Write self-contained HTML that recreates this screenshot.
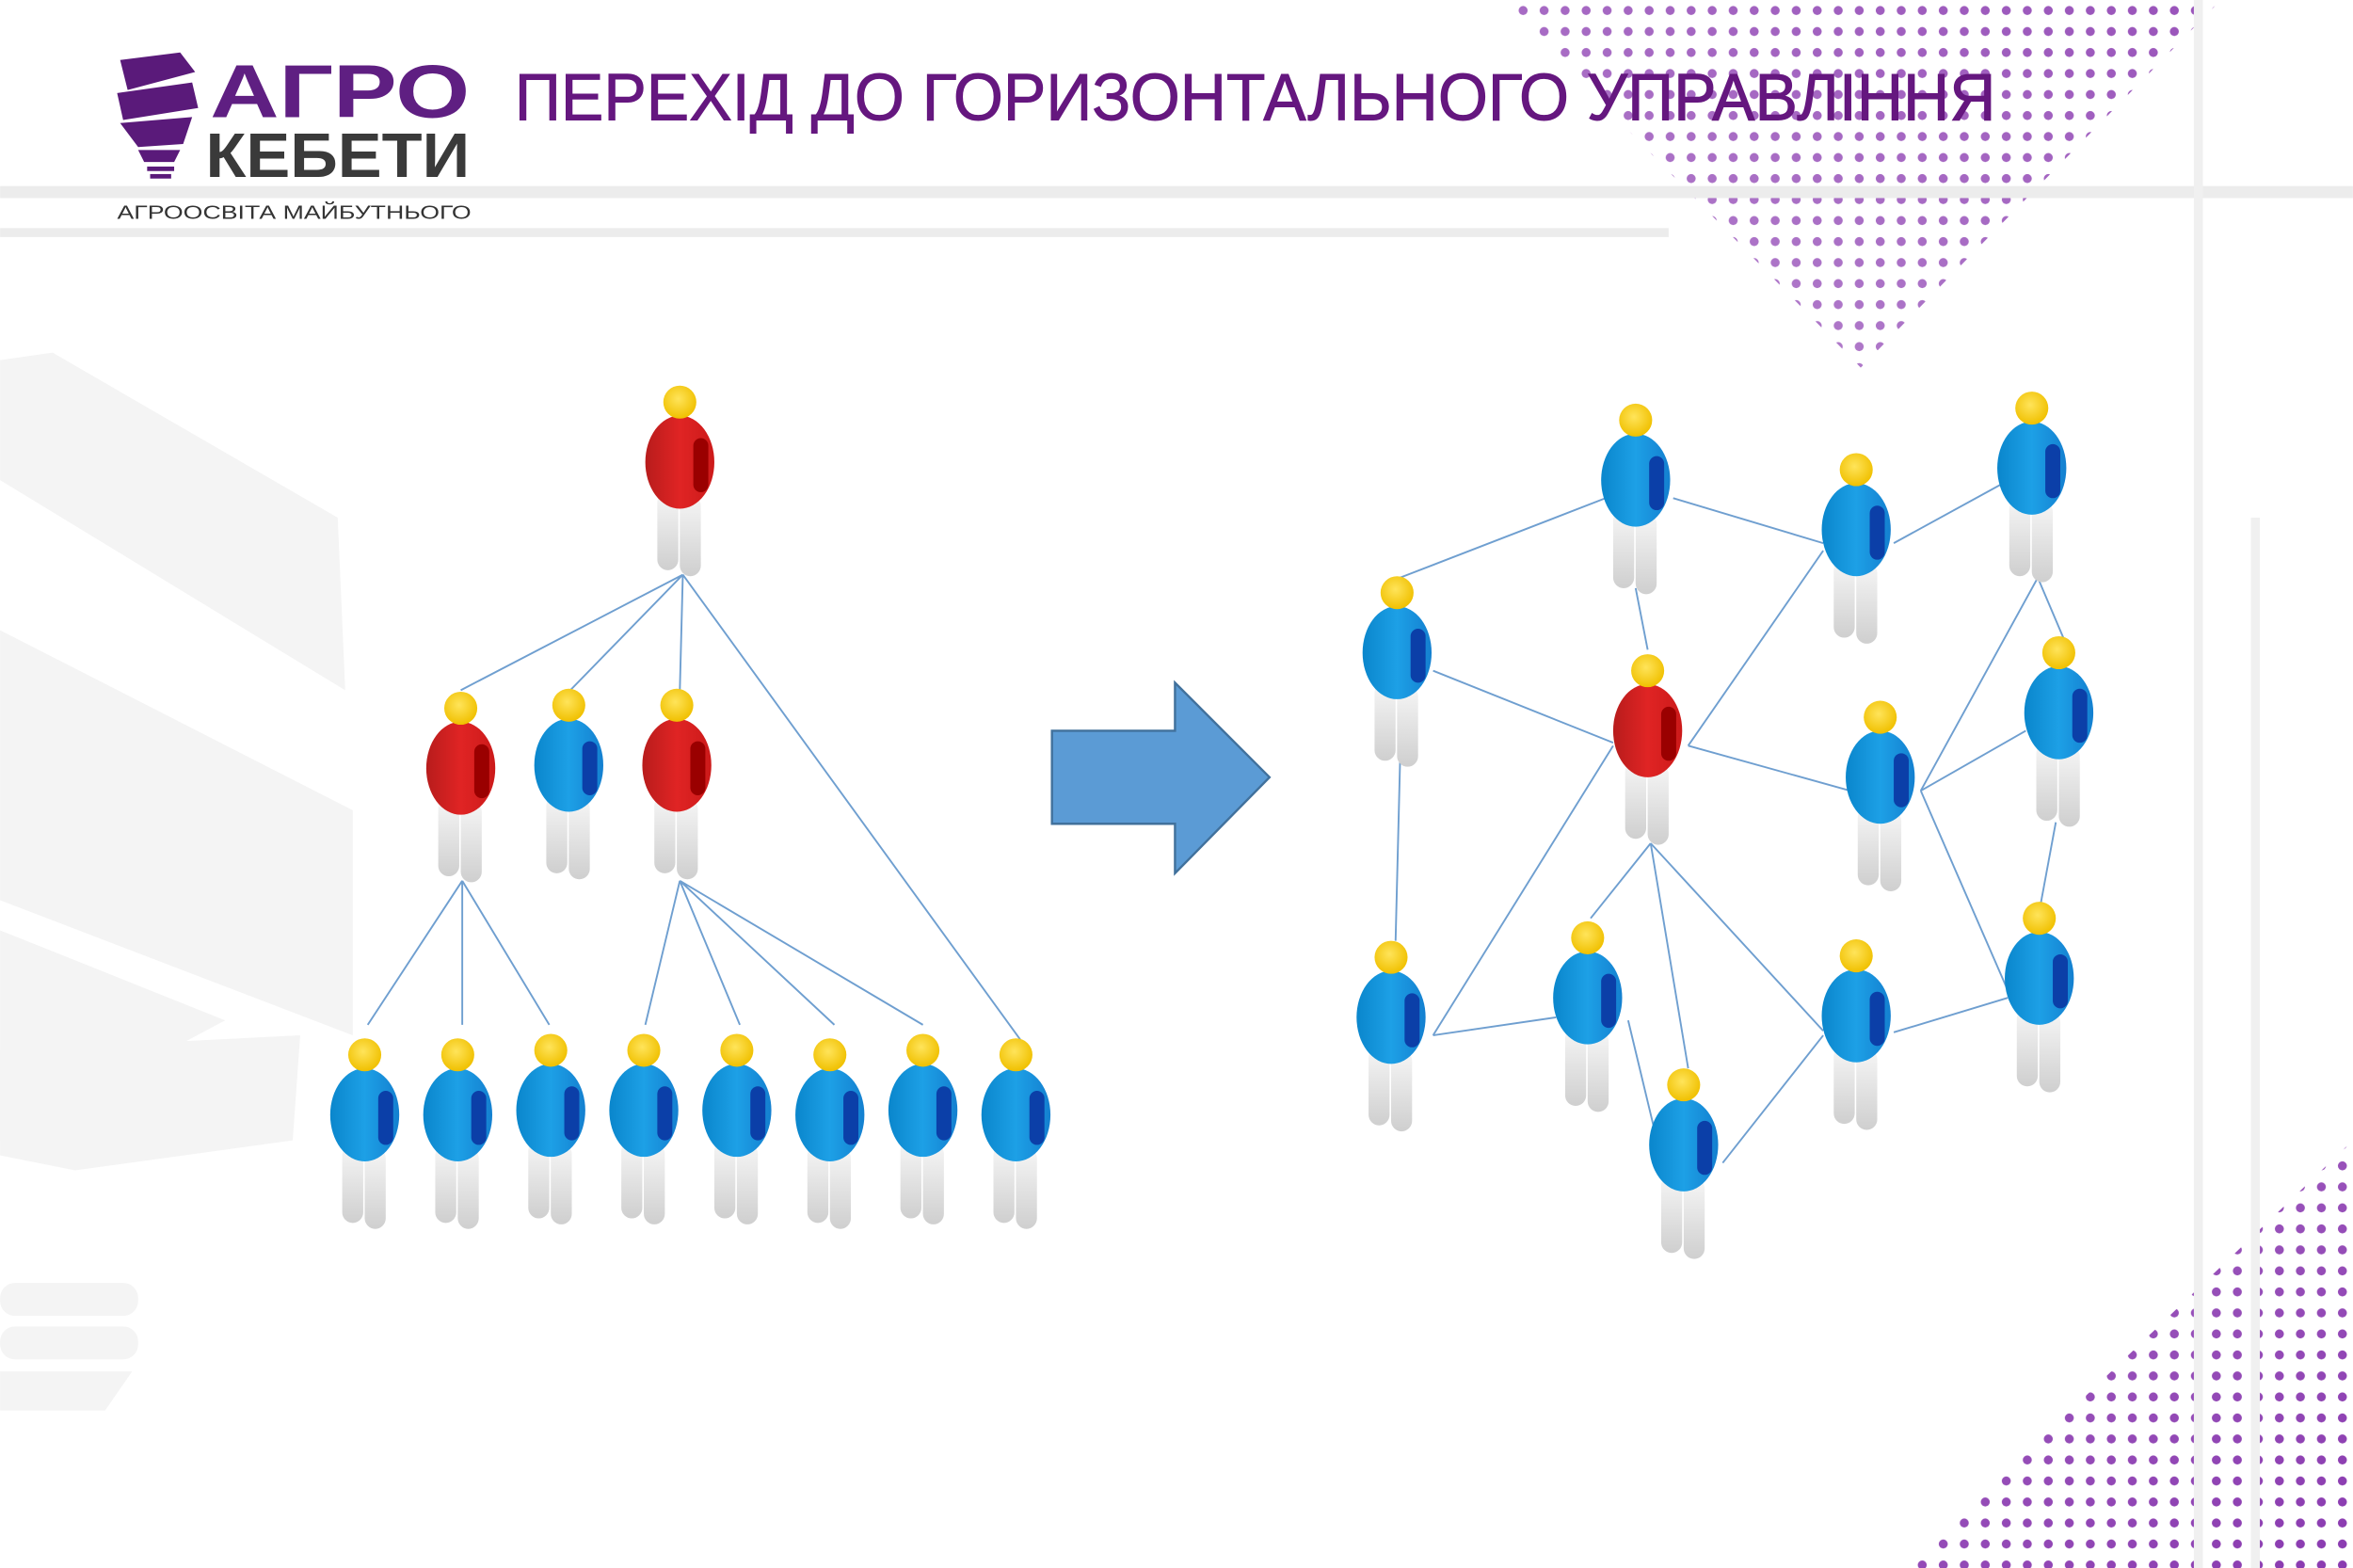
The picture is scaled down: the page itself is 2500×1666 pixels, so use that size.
<!DOCTYPE html>
<html><head><meta charset="utf-8"><style>
html,body{margin:0;padding:0;background:#fff;}
svg{display:block;}
</style></head><body>
<svg width="2500" height="1666" viewBox="0 0 1568 1045" xmlns="http://www.w3.org/2000/svg">
<defs>
<linearGradient id="leg" x1="0" y1="0" x2="0" y2="1"><stop offset="0" stop-color="#f6f6f6"/><stop offset="1" stop-color="#cfcfcf"/></linearGradient>
<linearGradient id="blue" x1="0" y1="0" x2="1" y2="0"><stop offset="0" stop-color="#0a86cc"/><stop offset="0.5" stop-color="#1da0e6"/><stop offset="1" stop-color="#1480d0"/></linearGradient>
<linearGradient id="red" x1="0" y1="0" x2="1" y2="0"><stop offset="0" stop-color="#b81c1c"/><stop offset="0.5" stop-color="#e02424"/><stop offset="1" stop-color="#cc1a1a"/></linearGradient>
<radialGradient id="head" cx="0.45" cy="0.4" r="0.6"><stop offset="0" stop-color="#ffe45a"/><stop offset="1" stop-color="#f0c000"/></radialGradient>
<g id="legs">
<rect x="-15" y="60" width="14" height="52" rx="7" fill="url(#leg)"/>
<rect x="0" y="62" width="14" height="54" rx="7" fill="url(#leg)"/>
</g>
<g id="pb">
<use href="#legs"/>
<ellipse cx="0" cy="40" rx="23" ry="31" fill="url(#blue)"/>
<rect x="9" y="24" width="10" height="36" rx="5" fill="#0b3fa8"/>
<circle cx="0" cy="0" r="11" fill="url(#head)"/>
</g>
<g id="pr">
<use href="#legs"/>
<ellipse cx="0" cy="40" rx="23" ry="31" fill="url(#red)"/>
<rect x="9" y="24" width="10" height="36" rx="5" fill="#9a0000"/>
<circle cx="0" cy="0" r="11" fill="url(#head)"/>
</g>
<pattern id="dots" width="14" height="14" patternUnits="userSpaceOnUse"><circle cx="7" cy="7" r="3" fill="#8a3ab0"/></pattern>
<linearGradient id="fadeTR" x1="1" y1="0" x2="0.3" y2="1"><stop offset="0" stop-color="#fff" stop-opacity="0.9"/><stop offset="1" stop-color="#fff" stop-opacity="0.05"/></linearGradient>
<mask id="mTR"><rect x="0" y="0" width="1568" height="1045" fill="url(#fadeTR)"/></mask>
<linearGradient id="fadeBR" x1="1" y1="1" x2="0" y2="0"><stop offset="0" stop-color="#fff" stop-opacity="1"/><stop offset="1" stop-color="#fff" stop-opacity="0.1"/></linearGradient>
<mask id="mBR"><rect x="0" y="0" width="1568" height="1045" fill="url(#fadeBR)"/></mask>
</defs>

<g fill="#f4f4f4">
<polygon points="0,240 35,235 225,345 230,460 0,320"/>
<polygon points="0,420 235,540 235,690 0,600"/>
<polygon points="0,620 150,680 0,760"/>
<polygon points="0,700 200,690 195,760 50,780 0,770"/>
<rect x="0" y="855" width="92" height="22" rx="10"/>
<rect x="0" y="884" width="92" height="22" rx="10"/>
<polygon points="0,914 88,914 70,940 0,940"/>
</g>

<polygon points="1000,0 1480,0 1240,245" fill="url(#dots)" mask="url(#mTR)"/>
<polygon points="1270,1045 1568,760 1568,1045" fill="url(#dots)" mask="url(#mBR)"/>

<rect x="0" y="124" width="1568" height="8" fill="#ececec"/>
<rect x="0" y="152" width="1112" height="6" fill="#ececec"/>
<rect x="1462" y="0" width="6" height="1045" fill="#f0f0f0"/>
<rect x="1500" y="345" width="6" height="700" fill="#f0f0f0"/>

<g fill="#5a1a7a">
<polygon points="80,40 120,35 130,48 85,60"/>
<polygon points="78,62 128,55 132,72 82,80"/>
<polygon points="80,82 128,78 122,96 92,98"/>
<polygon points="92,100 120,100 116,108 96,108"/>
<rect x="98" y="111" width="18" height="3"/>
<rect x="100" y="116" width="14" height="3"/>
</g>
<text x="140" y="78" font-family="Liberation Sans, sans-serif" font-weight="bold" font-size="50" fill="#5f1f82" textLength="173" lengthAdjust="spacingAndGlyphs">АГРО</text>
<text x="137" y="118" font-family="Liberation Sans, sans-serif" font-weight="bold" font-size="42" fill="#3a3a3a" textLength="176" lengthAdjust="spacingAndGlyphs">КЕБЕТИ</text>
<text x="78" y="146" font-family="Liberation Sans, sans-serif" font-size="13" fill="#333" textLength="236" lengthAdjust="spacingAndGlyphs">АГРООСВІТА МАЙБУТНЬОГО</text>

<text x="343" y="80" font-family="Liberation Sans, sans-serif" font-size="44" fill="#65177f" stroke="#65177f" stroke-width="0.6" textLength="987" lengthAdjust="spacingAndGlyphs">ПЕРЕХІД ДО ГОРИЗОНТАЛЬНОГО УПРАВЛІННЯ</text>

<g stroke="#6f9fd0" stroke-width="1.2" fill="none">
<path d="M455,383 L307,460 M455,383 L380,460 M455,383 L453,460 M455,383 L680,693"/>
<path d="M308,587 L245,683 M308,587 L308,683 M308,587 L366,683"/>
<path d="M453,587 L430,683 M453,587 L493,683 M453,587 L556,683 M453,587 L615,683"/>
</g>

<use href="#pr" x="453" y="268"/>
<use href="#pr" x="307" y="472"/>
<use href="#pb" x="379" y="470"/>
<use href="#pr" x="451" y="470"/>
<use href="#pb" x="243" y="703"/>
<use href="#pb" x="305" y="703"/>
<use href="#pb" x="367" y="700"/>
<use href="#pb" x="429" y="700"/>
<use href="#pb" x="491" y="700"/>
<use href="#pb" x="553" y="703"/>
<use href="#pb" x="615" y="700"/>
<use href="#pb" x="677" y="703"/>

<polygon points="701,487 783,487 783,455 846,518 783,582 783,549 701,549" fill="#5b9bd5" stroke="#41719c" stroke-width="1.5"/>

<g stroke="#6f9fd0" stroke-width="1.2" fill="none">
<path d="M933,385 L1070,332"/>
<path d="M1115,332 L1215,362"/>
<path d="M1262,362 L1335,322"/>
<path d="M1090,392 L1098,433"/>
<path d="M955,447 L1075,495"/>
<path d="M1125,497 L1215,367"/>
<path d="M1125,497 L1233,527"/>
<path d="M1280,527 L1358,385 L1375,425"/>
<path d="M1280,527 L1350,487"/>
<path d="M933,507 L930,627"/>
<path d="M955,690 L1075,497"/>
<path d="M955,690 L1037,678"/>
<path d="M1280,527 L1338,660"/>
<path d="M1262,688 L1338,665"/>
<path d="M1370,548 L1360,602"/>
<path d="M1100,562 L1060,612 M1100,562 L1125,712 M1100,562 L1215,687"/>
<path d="M1085,680 L1103,755"/>
<path d="M1148,775 L1215,690"/>
</g>

<use href="#pb" x="1090" y="280"/>
<use href="#pb" x="1237" y="313"/>
<use href="#pb" x="1354" y="272"/>
<use href="#pb" x="931" y="395"/>
<use href="#pb" x="1372" y="435"/>
<use href="#pr" x="1098" y="447"/>
<use href="#pb" x="1253" y="478"/>
<use href="#pb" x="927" y="638"/>
<use href="#pb" x="1058" y="625"/>
<use href="#pb" x="1237" y="637"/>
<use href="#pb" x="1359" y="612"/>
<use href="#pb" x="1122" y="723"/>
</svg>
</body></html>
